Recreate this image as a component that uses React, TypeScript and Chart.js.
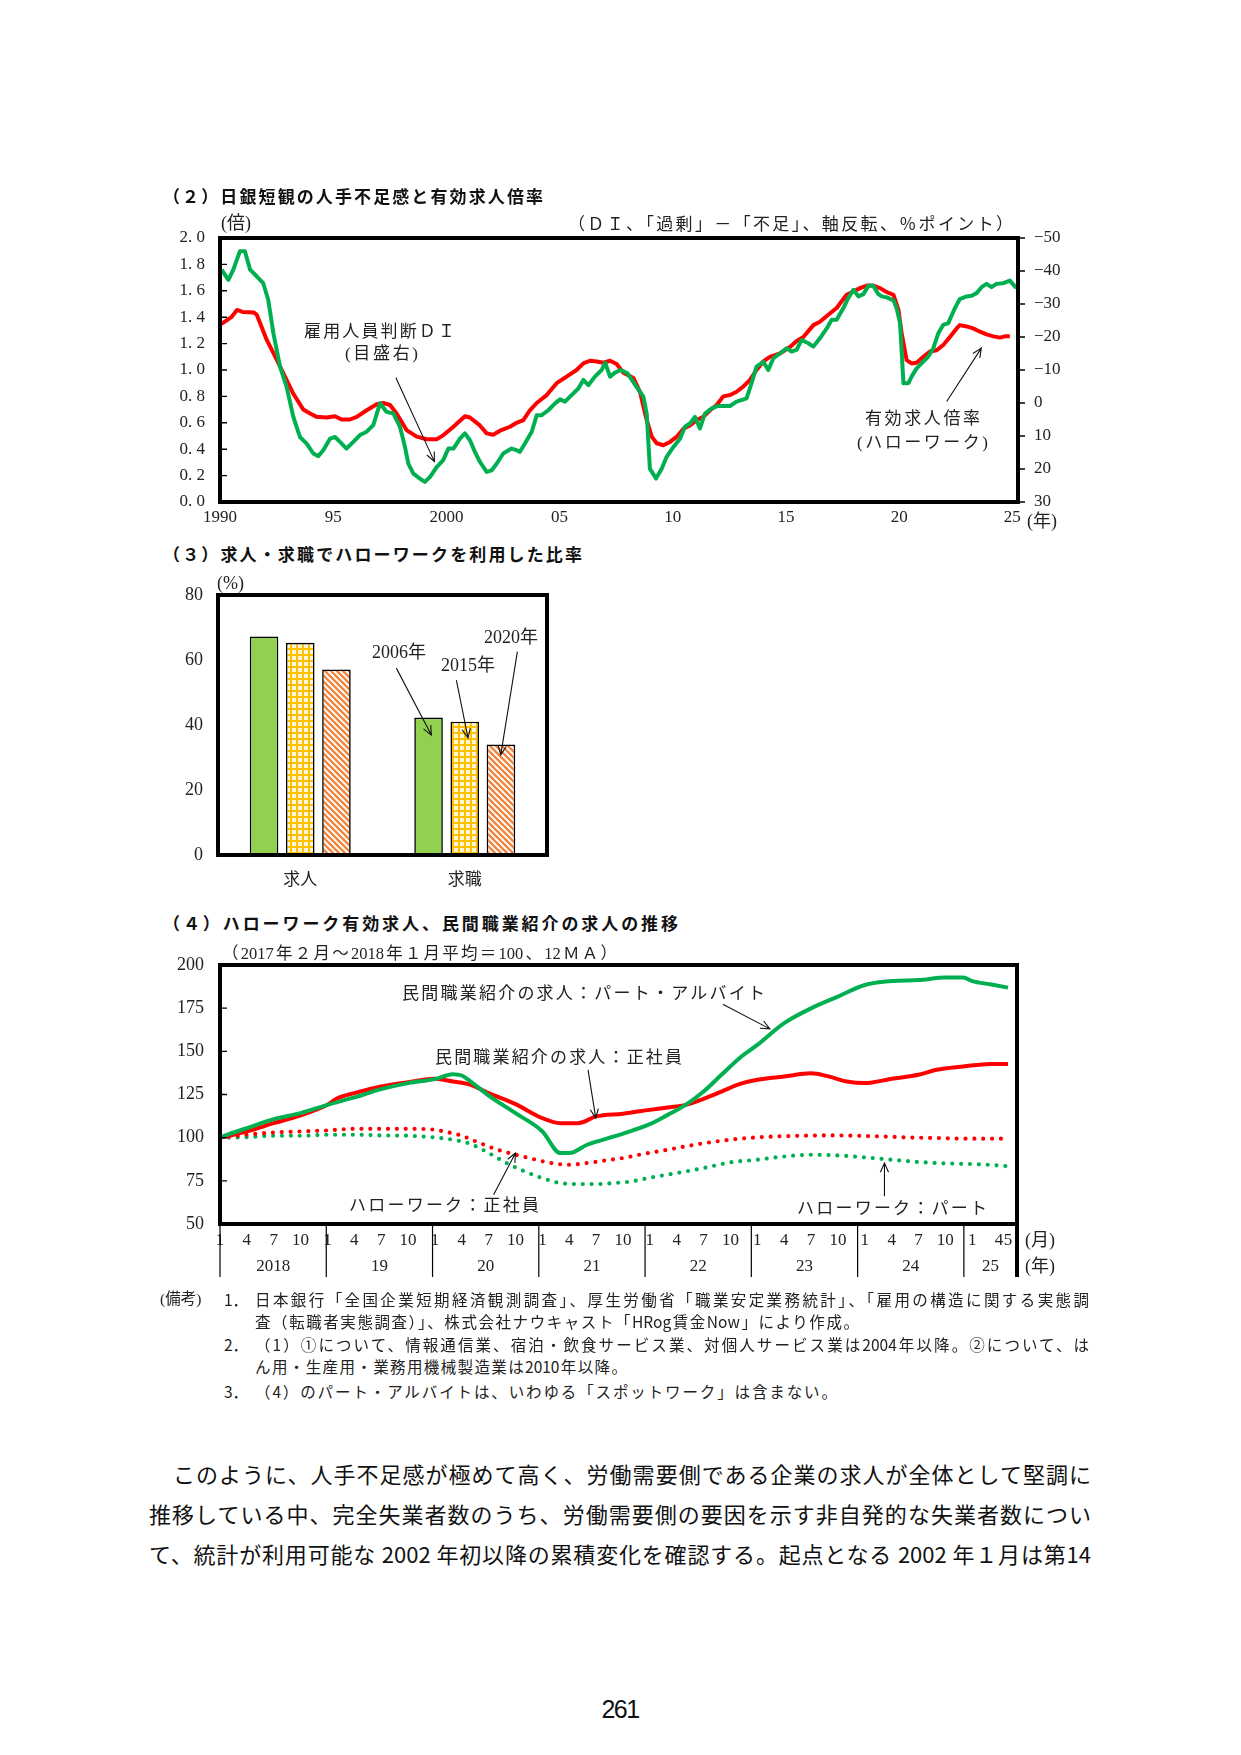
import React, { useEffect, useRef } from "react";
import { Chart, registerables } from "chart.js";

Chart.register(...registerables);

const SERIF = '"Liberation Serif", "Noto Sans CJK JP", serif';
const JP = '"Noto Sans CJK JP", "Liberation Serif", sans-serif';
const RED = "#FF0000";
const GREEN = "#00B050";
const INK = "#222";

// ---------- (2) 有効求人倍率（左軸）と雇用人員判断DI（右軸・反転） ----------
const ratioYears = [
  1990.07, 1990.5, 1990.75, 1991.0, 1991.5, 1991.62, 1992.06, 1992.5, 1992.8, 1993.24,
  1993.68, 1993.98, 1994.27, 1994.71, 1995.08, 1995.37, 1995.74, 1996.04, 1996.48, 1996.92,
  1997.21, 1997.51, 1997.8, 1998.24, 1998.69, 1999.13, 1999.57, 1999.86, 2000.31, 2000.82,
  2001.04, 2001.48, 2001.78, 2002.07, 2002.37, 2002.81, 2003.1, 2003.4, 2003.69, 2003.99,
  2004.43, 2004.87, 2005.31, 2005.75, 2006.05, 2006.34, 2006.64, 2006.93, 2007.23, 2007.52,
  2007.82, 2008.26, 2008.55, 2008.85, 2009.07, 2009.29, 2009.58, 2009.88, 2010.18, 2010.47,
  2010.76, 2011.06, 2011.35, 2011.65, 2011.94, 2012.23, 2012.53, 2012.82, 2013.12, 2013.41,
  2013.7, 2014.0, 2014.29, 2014.73, 2015.18, 2015.47, 2015.77, 2016.21, 2016.5, 2016.95,
  2017.24, 2017.68, 2017.98, 2018.27, 2018.57, 2018.86, 2019.16, 2019.45, 2019.75, 2019.97,
  2020.11, 2020.33, 2020.55, 2020.77, 2021.07, 2021.36, 2021.66, 2021.95, 2022.24, 2022.54,
  2022.68, 2022.98, 2023.27, 2023.57, 2023.86, 2024.16, 2024.45, 2024.67, 2024.89,
];
const ratioValues = [
  1.35, 1.4, 1.455, 1.44, 1.435, 1.42, 1.23, 1.08, 0.975, 0.82,
  0.7, 0.67, 0.645, 0.64, 0.65, 0.625, 0.625, 0.645, 0.695, 0.74,
  0.75, 0.735, 0.67, 0.545, 0.495, 0.475, 0.475, 0.505, 0.57, 0.65,
  0.64, 0.58, 0.52, 0.51, 0.54, 0.57, 0.6, 0.62, 0.695, 0.75,
  0.81, 0.9, 0.95, 1.0, 1.05, 1.07, 1.065, 1.055, 1.07, 1.045,
  0.98, 0.94, 0.835, 0.62, 0.495, 0.445, 0.43, 0.455, 0.495, 0.555,
  0.58, 0.62, 0.645, 0.695, 0.735, 0.8, 0.81, 0.835, 0.875, 0.925,
  1.0, 1.065, 1.1, 1.125, 1.175, 1.22, 1.25, 1.34, 1.365, 1.43,
  1.47, 1.57, 1.595, 1.62, 1.64, 1.64, 1.62, 1.59, 1.57, 1.455,
  1.28, 1.075, 1.05, 1.055, 1.1, 1.14, 1.15, 1.19, 1.25, 1.315,
  1.34, 1.33, 1.315, 1.29, 1.27, 1.255, 1.245, 1.255, 1.255,
];
const diYears = [
  1990.07, 1990.37, 1990.59, 1990.88, 1991.1, 1991.33, 1991.62, 1991.91, 1992.13, 1992.36,
  1992.65, 1992.94, 1993.24, 1993.53, 1993.83, 1994.12, 1994.34, 1994.56, 1994.86, 1995.08,
  1995.3, 1995.59, 1995.89, 1996.18, 1996.48, 1996.77, 1997.07, 1997.36, 1997.66, 1997.95,
  1998.17, 1998.32, 1998.54, 1998.83, 1999.05, 1999.28, 1999.57, 1999.86, 2000.09, 2000.31,
  2000.6, 2000.82, 2001.04, 2001.26, 2001.48, 2001.78, 2002.0, 2002.22, 2002.51, 2002.88,
  2003.1, 2003.25, 2003.47, 2003.77, 2003.99, 2004.21, 2004.5, 2004.8, 2005.02, 2005.24,
  2005.53, 2005.83, 2006.05, 2006.27, 2006.56, 2006.86, 2007.01, 2007.23, 2007.45, 2007.7,
  2008.0, 2008.4, 2008.7, 2008.85, 2008.99, 2009.26, 2009.51, 2009.73, 2010.03, 2010.32,
  2010.54, 2010.76, 2010.98, 2011.2, 2011.42, 2011.72, 2012.01, 2012.53, 2012.82, 2013.26,
  2013.48, 2013.7, 2014.0, 2014.22, 2014.44, 2014.73, 2015.03, 2015.25, 2015.47, 2015.69,
  2015.99, 2016.21, 2016.5, 2016.8, 2017.02, 2017.24, 2017.53, 2017.75, 2017.98, 2018.2,
  2018.42, 2018.64, 2018.86, 2019.08, 2019.23, 2019.45, 2019.75, 2019.89, 2020.04, 2020.19,
  2020.41, 2020.55, 2020.77, 2020.99, 2021.28, 2021.51, 2021.73, 2021.95, 2022.17, 2022.46,
  2022.68, 2022.98, 2023.2, 2023.42, 2023.64, 2023.86, 2024.08, 2024.3, 2024.6, 2024.89,
  2025.18,
];
const diValues = [
  -40.4, -37.3, -40.4, -46, -46, -40.4, -38.4, -36.3, -31.3, -21.1,
  -11, -5, 4.2, 10.3, 12.3, 15.3, 16.1, 14.3, 10.8, 10.3,
  11.8, 13.8, 11.8, 9.7, 8.7, 6.7, 0.1, 2.7, 3.2, 7.2,
  13.3, 18.4, 21.4, 22.9, 23.9, 22.4, 19.4, 17.3, 13.8, 13.8,
  10.8, 9.2, 11.3, 14.8, 17.8, 20.9, 20.4, 18.4, 15.3, 13.8,
  14.3, 14.8, 12.3, 8.7, 3.7, 3.7, 2.2, 0.1, -1.1, -0.4,
  -2.4, -4.4, -7, -5.4, -8, -10, -12.2, -8, -9.2, -10,
  -9, -4.9, -1.9, 3.2, 19.9, 22.9, 19.9, 16.3, 13.3, 10.8,
  7.2, 6.2, 4.2, 7.7, 3.2, 1.6, 0.9, 0.9, -0.4, -1.4,
  -6, -11, -12.5, -10, -13.5, -15, -16.6, -15.6, -16.1, -19.1,
  -18.1, -17.1, -19.6, -22.6, -25.2, -25.2, -28.7, -31.8, -34.3, -32.3,
  -33, -35.5, -35.5, -33, -32.3, -32, -31.1, -28.7, -24.2, -6,
  -6, -8, -10.5, -12, -14, -16.6, -21.1, -23.7, -24.2, -28.7,
  -31.5, -32.3, -32.5, -33.3, -35.1, -36.1, -35.1, -36.1, -36.3, -37.1,
  -34.8,
];
const yearTicks = [1990, 1995, 2000, 2005, 2010, 2015, 2020, 2025];
const yearTickLabels = ["1990", "95", "2000", "05", "10", "15", "20", "25"];

// ---------- (3) 求人・求職でハローワークを利用した比率 ----------
const useCategories = ["求人", "求職"];
const surveyYears = ["2006年", "2015年", "2020年"];
const share2006 = [67.2, 42.3];
const share2015 = [65.3, 41.0];
const share2020 = [57.1, 34.0];

// ---------- (4) ハローワーク有効求人、民間職業紹介の求人 ----------
const periodYears = [2018, 2019, 2020, 2021, 2022, 2023, 2024, 2025];
const yearRowLabels = ["2018", "19", "20", "21", "22", "23", "24", "25"];
const monthsInAxis = 90; // 2018年1月〜2025年6月
const monthLabels = periodYears
  .flatMap((y) => Array.from({ length: 12 }, (_, i) => `${y}-${i + 1}`))
  .slice(0, monthsInAxis);
const shownMonths = [1, 4, 7, 10];
const shownMonthsLastYear = [1, 4, 5];

const privPartMonths = [0, 1, 3, 6, 9, 12, 15, 18, 21, 24, 26, 27, 28, 30, 33, 36, 38, 39, 41, 44, 48, 50, 52, 54, 56, 58, 60, 63, 66, 69, 72, 75, 78, 81, 83, 84, 86, 88];
const privPartValues = [100, 102.1, 105.5, 110.7, 114.2, 119, 123.3, 128.1, 131.6, 133.9, 136.8, 136, 132.5, 124.4, 114.2, 103.6, 91.1, 91.1, 95.9, 100.7, 107.8, 113.2, 119, 126.7, 136.4, 146, 153.7, 166.3, 174.9, 181.7, 188.4, 190.7, 191.3, 192.7, 192.7, 190.7, 188.8, 186.9];
const privRegMonths = [0, 3, 6, 9, 12, 13, 15, 18, 21, 24, 26, 28, 30, 33, 36, 38, 40, 42, 45, 48, 50, 52, 54, 56, 58, 60, 63, 66, 68, 70, 72, 75, 78, 80, 83, 86, 88];
const privRegValues = [100, 103.6, 108.4, 112.9, 119, 122.5, 125.8, 129.6, 132.1, 134.1, 132.5, 130.6, 125.8, 119.4, 111.3, 108.4, 108.4, 112.3, 113.9, 116.1, 117.5, 119, 122.5, 126.7, 131, 133.5, 135.4, 137.3, 135.4, 132.5, 131.6, 134.1, 136.4, 139.3, 141.2, 142.7, 142.7];
const hwRegMonths = [0, 3, 6, 9, 12, 15, 18, 21, 24, 25, 27, 29, 31, 33, 35, 37, 39, 41, 43, 45, 47, 50, 53, 56, 59, 62, 65, 68, 71, 74, 77, 80, 83, 86, 88];
const hwRegValues = [100, 101.7, 103, 103.6, 104.2, 105.1, 105.1, 105.1, 104.6, 103.6, 101.1, 96.9, 93, 90.1, 87.6, 85.3, 84.3, 85.3, 86.8, 88.2, 90.3, 93, 95.9, 98.2, 99.8, 100.7, 101.1, 101.3, 101.1, 100.7, 100.1, 99.8, 99.4, 99.4, 99.4];
const hwPartMonths = [0, 3, 6, 9, 12, 15, 18, 21, 24, 26, 28, 30, 32, 34, 36, 38, 40, 42, 44, 46, 48, 51, 54, 57, 60, 63, 66, 69, 72, 75, 78, 81, 84, 87, 88];
const hwPartValues = [100, 100.3, 101.1, 101.1, 101.7, 101.7, 101.3, 101.1, 100.1, 98.8, 96.3, 91.1, 85.3, 80.5, 76.6, 73.7, 73.1, 73.1, 73.7, 74.7, 76.8, 79.5, 82.4, 85.7, 87.2, 89.1, 90.1, 89.7, 88.6, 87.2, 85.9, 85.1, 84.7, 83.9, 83.4];

// annotation arrows, in data units of each chart
const arrows2 = [
  { axis: "yL", from: [1997.77, 0.941], to: [1999.47, 0.306] },
  { axis: "yL", from: [2022.1, 0.761], to: [2023.63, 1.166] },
];
const arrows3 = [
  { from: [0.584, 57.5], to: [0.797, 36.9] },
  { from: [0.949, 53.8], to: [1.02, 36.0] },
  { from: [1.32, 62.6], to: [1.219, 30.8] },
];
const arrows4 = [
  { from: [56.15, 177.3], to: [61.4, 163] },
  { from: [41.1, 139.3], to: [41.96, 111.3] },
  { from: [30.55, 67.0], to: [33.0, 91.1] },
  { from: [74.2, 66.0], to: [74.2, 85.3] },
];

function drawArrow(ctx: CanvasRenderingContext2D, x1: number, y1: number, x2: number, y2: number) {
  const head = 10;
  const ang = Math.atan2(y2 - y1, x2 - x1);
  ctx.beginPath();
  ctx.moveTo(x1, y1);
  ctx.lineTo(x2, y2);
  ctx.moveTo(x2 - head * Math.cos(ang - 0.42), y2 - head * Math.sin(ang - 0.42));
  ctx.lineTo(x2, y2);
  ctx.lineTo(x2 - head * Math.cos(ang + 0.42), y2 - head * Math.sin(ang + 0.42));
  ctx.stroke();
}

function frameBox(ctx: CanvasRenderingContext2D, a: any) {
  ctx.strokeStyle = "#000";
  ctx.lineWidth = 4;
  ctx.strokeRect(a.left, a.top, a.right - a.left, a.bottom - a.top);
}

// fixed axis sizes so the plot area sits where the layout wants it
const fixWidth = (w: number) => (s: any) => {
  s.width = w;
  s.paddingTop = 0;
  s.paddingBottom = 0;
  s.paddingLeft = 0;
  s.paddingRight = 0;
};
const fixHeight = (h: number) => (s: any) => {
  s.height = h;
  s.paddingTop = 0;
  s.paddingBottom = 0;
  s.paddingLeft = 0;
  s.paddingRight = 0;
};

function gridPattern(): CanvasPattern {
  const c = document.createElement("canvas");
  c.width = 6;
  c.height = 6;
  const g = c.getContext("2d")!;
  g.fillStyle = "#FFF6DA";
  g.fillRect(0, 0, 6, 6);
  g.fillStyle = "#FFC000";
  g.fillRect(0, 0, 6, 2);
  g.fillRect(0, 0, 2, 6);
  return g.createPattern(c, "repeat")!;
}

function stripePattern(): CanvasPattern {
  const s = 6;
  const c = document.createElement("canvas");
  c.width = s;
  c.height = s;
  const g = c.getContext("2d")!;
  g.fillStyle = "#FFFFFF";
  g.fillRect(0, 0, s, s);
  g.strokeStyle = "#F2843C";
  g.lineWidth = 2.3;
  g.beginPath();
  for (let k = -1; k <= 1; k++) {
    g.moveTo(k * s - 1, -1);
    g.lineTo(k * s + s + 1, s + 1);
  }
  g.stroke();
  return g.createPattern(c, "repeat")!;
}

const tickFont = { family: SERIF, size: 17 };

function Txt(p: {
  x: number; y: number; text: string; size?: number; font?: string; w?: number;
  justify?: boolean; ls?: number; color?: string; weight?: number | string; align?: any;
}) {
  const size = p.size ?? 17;
  const lh = Math.round(size * 1.3);
  return (
    <div
      style={{
        position: "absolute",
        left: p.x,
        top: p.y - lh / 2,
        width: p.w,
        fontSize: size,
        lineHeight: `${lh}px`,
        fontFamily: p.font ?? JP,
        fontWeight: p.weight ?? 400,
        color: p.color ?? INK,
        letterSpacing: p.ls,
        textAlign: p.justify ? "justify" : p.align ?? "left",
        textAlignLast: p.justify ? "justify" : p.align ?? "left",
        whiteSpace: p.justify ? "normal" : "nowrap",
      } as any}
    >
      {p.text}
    </div>
  );
}

export default function App() {
  const c2 = useRef<HTMLCanvasElement>(null);
  const c3 = useRef<HTMLCanvasElement>(null);
  const c4 = useRef<HTMLCanvasElement>(null);

  useEffect(() => {
    const charts: Chart[] = [];

    // ---- (2) ----
    const deco2 = {
      id: "deco2",
      afterDatasetsDraw(chart: any) {
        const { ctx, chartArea: a, scales } = chart;
        ctx.save();
        ctx.strokeStyle = "#000";
        ctx.lineWidth = 1.4;
        ctx.beginPath();
        for (const t of scales.yL.ticks) {
          const y = scales.yL.getPixelForValue(t.value);
          ctx.moveTo(a.left, y);
          ctx.lineTo(a.left + 7, y);
        }
        for (const t of scales.yR.ticks) {
          const y = scales.yR.getPixelForValue(t.value);
          ctx.moveTo(a.right, y);
          ctx.lineTo(a.right + 7, y);
        }
        ctx.stroke();
        frameBox(ctx, a);
        ctx.strokeStyle = "#111";
        ctx.lineWidth = 1.1;
        for (const ar of arrows2) {
          const ys = scales[ar.axis];
          drawArrow(
            ctx,
            scales.x.getPixelForValue(ar.from[0]), ys.getPixelForValue(ar.from[1]),
            scales.x.getPixelForValue(ar.to[0]), ys.getPixelForValue(ar.to[1])
          );
        }
        ctx.restore();
      },
    };
    charts.push(
      new Chart(c2.current!, {
        type: "line",
        data: {
          datasets: [
            {
              label: "雇用人員判断DI",
              data: diYears.map((x, i) => ({ x, y: diValues[i] })),
              yAxisID: "yR",
              borderColor: GREEN,
              borderWidth: 4,
              pointRadius: 0,
              tension: 0,
              borderJoinStyle: "round",
            },
            {
              label: "有効求人倍率",
              data: ratioYears.map((x, i) => ({ x, y: ratioValues[i] })),
              yAxisID: "yL",
              borderColor: RED,
              borderWidth: 4,
              pointRadius: 0,
              tension: 0,
              borderJoinStyle: "round",
            },
          ],
        },
        options: {
          responsive: false,
          animation: false,
          layout: { autoPadding: false, padding: { top: 33, left: 0, right: 0, bottom: 0 } },
          plugins: { legend: { display: false }, tooltip: { enabled: false } },
          scales: {
            x: {
              type: "linear",
              min: 1990,
              max: 2025.25,
              grid: { display: false, drawTicks: false },
              border: { display: false },
              afterBuildTicks: (s: any) => { s.ticks = yearTicks.map((v) => ({ value: v })); },
              afterFit: fixHeight(33),
              ticks: {
                autoSkip: false,
                maxRotation: 0,
                padding: 5,
                color: INK,
                font: tickFont,
                callback: (v: any) => yearTickLabels[yearTicks.indexOf(Number(v))] ?? "",
              },
            },
            yL: {
              type: "linear",
              position: "left",
              min: 0,
              max: 2,
              grid: { display: false, drawTicks: false },
              border: { display: false },
              afterFit: fixWidth(80),
              ticks: {
                stepSize: 0.2,
                padding: 15,
                color: INK,
                font: tickFont,
                callback: (v: any) => Number(v).toFixed(1).replace(".", ". "),
              },
            },
            yR: {
              type: "linear",
              position: "right",
              min: -50,
              max: 30,
              reverse: true,
              grid: { display: false, drawTicks: false },
              border: { display: false },
              afterFit: fixWidth(62),
              ticks: {
                stepSize: 10,
                padding: 16,
                color: INK,
                font: tickFont,
                callback: (v: any) => (Number(v) < 0 ? "\u2212" + Math.abs(Number(v)) : String(v)),
              },
            },
          },
        } as any,
        plugins: [deco2],
      })
    );

    // ---- (3) ----
    const deco3 = {
      id: "deco3",
      afterDatasetsDraw(chart: any) {
        const { ctx, chartArea: a, scales } = chart;
        ctx.save();
        frameBox(ctx, a);
        ctx.strokeStyle = "#111";
        ctx.lineWidth = 1.1;
        for (const ar of arrows3) {
          drawArrow(
            ctx,
            scales.x.getPixelForValue(ar.from[0]), scales.y.getPixelForValue(ar.from[1]),
            scales.x.getPixelForValue(ar.to[0]), scales.y.getPixelForValue(ar.to[1])
          );
        }
        ctx.restore();
      },
    };
    charts.push(
      new Chart(c3.current!, {
        type: "bar",
        data: {
          labels: useCategories,
          datasets: [
            { label: surveyYears[0], data: share2006, backgroundColor: "#92D050" },
            { label: surveyYears[1], data: share2015, backgroundColor: gridPattern() },
            { label: surveyYears[2], data: share2020, backgroundColor: stripePattern() },
          ].map((d) => ({
            ...d,
            borderColor: "#000",
            borderWidth: 1.6,
            borderSkipped: false,
            categoryPercentage: 0.66,
            barPercentage: 0.79,
          })),
        },
        options: {
          responsive: false,
          animation: false,
          layout: { autoPadding: false, padding: { top: 25, left: 0, right: 13, bottom: 0 } },
          plugins: { legend: { display: false }, tooltip: { enabled: false } },
          scales: {
            x: {
              grid: { display: false, drawTicks: false },
              border: { display: false },
              afterFit: fixHeight(45),
              ticks: { padding: 13, color: INK, font: { family: JP, size: 17 } },
            },
            y: {
              min: 0,
              max: 80,
              grid: { display: false, drawTicks: false },
              border: { display: false },
              afterFit: fixWidth(78),
              ticks: { stepSize: 20, padding: 15, color: INK, font: { family: SERIF, size: 18 } },
            },
          },
        } as any,
        plugins: [deco3],
      })
    );

    // ---- (4) ----
    const deco4 = {
      id: "deco4",
      afterDatasetsDraw(chart: any) {
        const { ctx, chartArea: a, scales } = chart;
        ctx.save();
        ctx.strokeStyle = "#000";
        ctx.lineWidth = 1.4;
        ctx.beginPath();
        for (const t of scales.y.ticks) {
          const y = scales.y.getPixelForValue(t.value);
          ctx.moveTo(a.left, y);
          ctx.lineTo(a.left + 7, y);
        }
        ctx.stroke();
        frameBox(ctx, a);
        // year separators and year row
        const slot = (a.right - a.left) / monthsInAxis;
        ctx.lineWidth = 1.2;
        ctx.beginPath();
        for (let k = 0; k < periodYears.length; k++) {
          const x = a.left + 12 * k * slot;
          ctx.moveTo(x, a.bottom);
          ctx.lineTo(x, a.bottom + 53);
        }
        ctx.stroke();
        ctx.lineWidth = 4;
        ctx.beginPath();
        ctx.moveTo(a.right, a.bottom);
        ctx.lineTo(a.right, a.bottom + 53);
        ctx.stroke();
        ctx.fillStyle = INK;
        ctx.font = `17px ${SERIF}`;
        ctx.textAlign = "center";
        ctx.textBaseline = "middle";
        periodYears.forEach((_, k) => {
          const n = Math.min(12, monthsInAxis - 12 * k);
          ctx.fillText(yearRowLabels[k], a.left + (12 * k + n / 2) * slot, a.bottom + 43);
        });
        ctx.strokeStyle = "#111";
        ctx.lineWidth = 1.1;
        for (const ar of arrows4) {
          drawArrow(
            ctx,
            scales.x.getPixelForValue(ar.from[0]), scales.y.getPixelForValue(ar.from[1]),
            scales.x.getPixelForValue(ar.to[0]), scales.y.getPixelForValue(ar.to[1])
          );
        }
        ctx.restore();
      },
    };
    const series = (months: number[], values: number[]) =>
      months.map((m, i) => ({ x: monthLabels[m], y: values[i] }));
    const solid = { borderWidth: 4, pointRadius: 0, tension: 0.4, cubicInterpolationMode: "monotone", borderJoinStyle: "round" };
    const dotted = { ...solid, borderWidth: 4.2, borderDash: [0, 8.86], borderCapStyle: "round" };
    charts.push(
      new Chart(c4.current!, {
        type: "line",
        data: {
          labels: monthLabels,
          datasets: [
            { label: "民間職業紹介の求人：パート・アルバイト", data: series(privPartMonths, privPartValues), borderColor: GREEN, ...solid },
            { label: "民間職業紹介の求人：正社員", data: series(privRegMonths, privRegValues), borderColor: RED, ...solid },
            { label: "ハローワーク：正社員", data: series(hwRegMonths, hwRegValues), borderColor: RED, ...dotted },
            { label: "ハローワーク：パート", data: series(hwPartMonths, hwPartValues), borderColor: GREEN, ...dotted },
          ],
        },
        options: {
          responsive: false,
          animation: false,
          layout: { autoPadding: false, padding: { top: 15, left: 0, right: 63, bottom: 0 } },
          plugins: { legend: { display: false }, tooltip: { enabled: false } },
          scales: {
            x: {
              type: "category",
              grid: { display: false, drawTicks: false },
              border: { display: false },
              afterFit: fixHeight(66),
              ticks: {
                autoSkip: false,
                maxRotation: 0,
                minRotation: 0,
                padding: 6,
                color: INK,
                font: tickFont,
                callback: (_v: any, idx: number) => {
                  const month = (idx % 12) + 1;
                  const year = periodYears[Math.floor(idx / 12)];
                  const list = year === periodYears[periodYears.length - 1] ? shownMonthsLastYear : shownMonths;
                  return list.includes(month) ? String(month) : "";
                },
              },
            },
            y: {
              min: 50,
              max: 200,
              grid: { display: false, drawTicks: false },
              border: { display: false },
              afterFit: fixWidth(80),
              ticks: { stepSize: 25, padding: 16, color: INK, font: { family: SERIF, size: 18 } },
            },
          },
        } as any,
        plugins: [deco4],
      })
    );

    return () => charts.forEach((c) => c.destroy());
  }, []);

  const canvasStyle = (left: number, top: number): React.CSSProperties => ({ position: "absolute", left, top });

  return (
    <div style={{ position: "absolute", left: 0, top: 0, width: 1241, height: 1755, background: "#fff", overflow: "hidden" }}>
      <canvas ref={c2} width={940} height={330} style={canvasStyle(140, 205)} />
      <canvas ref={c3} width={420} height={330} style={canvasStyle(140, 570)} />
      <canvas ref={c4} width={940} height={340} style={canvasStyle(140, 950)} />

      {/* (2) */}
      <Txt x={163} y={196} w={380} size={17} weight={700} justify text="（２）日銀短観の人手不足感と有効求人倍率" color="#111" />
      <Txt x={221} y={223} size={18} font={SERIF} text="(倍)" />
      <Txt x={568} y={223} w={445} size={17} justify text="（ＤＩ、「過剰」－「不足」、軸反転、％ポイント）" />
      <Txt x={304} y={330} w={151} size={17} justify text="雇用人員判断ＤＩ" />
      <Txt x={345} y={354} w={73} size={17} justify font={SERIF} text="(目盛右)" />
      <Txt x={865} y={417} w={115} size={17} justify text="有効求人倍率" />
      <Txt x={857} y={443} w={131} size={17} justify font={SERIF} text="(ハローワーク)" />
      <Txt x={1027} y={521} size={18} font={SERIF} text="(年)" />

      {/* (3) */}
      <Txt x={163} y={554} w={419} size={17} weight={700} justify text="（３）求人・求職でハローワークを利用した比率" color="#111" />
      <Txt x={217} y={583} size={18} font={SERIF} text="(%)" />
      <Txt x={372} y={652} size={18} font={SERIF} text={surveyYears[0]} />
      <Txt x={441} y={665} size={18} font={SERIF} text={surveyYears[1]} />
      <Txt x={484} y={637} size={18} font={SERIF} text={surveyYears[2]} />

      {/* (4) */}
      <Txt x={163} y={923} w={515} size={17} weight={700} justify text="（４）ハローワーク有効求人、民間職業紹介の求人の推移" color="#111" />
      <Txt x={222} y={953} w={395} size={16.5} justify font={SERIF} text="（2017年２月～2018年１月平均＝100、12ＭＡ）" />
      <Txt x={402} y={992} w={363} size={17} justify text="民間職業紹介の求人：パート・アルバイト" />
      <Txt x={435} y={1056} w={247} size={17} justify text="民間職業紹介の求人：正社員" />
      <Txt x={349} y={1204} w={190} size={17} justify text="ハローワーク：正社員" />
      <Txt x={797} y={1207} w={190} size={17} justify text="ハローワーク：パート" />
      <Txt x={1025} y={1240} size={18} font={SERIF} text="(月)" />
      <Txt x={1025} y={1266} size={18} font={SERIF} text="(年)" />

      {/* 備考 */}
      <Txt x={160} y={1299} size={15.5} font={SERIF} text="(備考)" />
      <Txt x={224} y={1299} size={15.5} text="1．" />
      <Txt x={255} y={1299} w={834} size={15.5} justify text="日本銀行「全国企業短期経済観測調査」、厚生労働省「職業安定業務統計」、「雇用の構造に関する実態調" />
      <Txt x={255} y={1321} w={604} size={15.5} justify text="査（転職者実態調査）」、株式会社ナウキャスト「HRog賃金Now」により作成。" />
      <Txt x={224} y={1344} size={15.5} text="2．" />
      <Txt x={255} y={1344} w={834} size={15.5} justify text="（1）①について、情報通信業、宿泊・飲食サービス業、対個人サービス業は2004年以降。②について、は" />
      <Txt x={255} y={1366} w={372} size={15.5} justify text="ん用・生産用・業務用機械製造業は2010年以降。" />
      <Txt x={224} y={1391} size={15.5} text="3．" />
      <Txt x={255} y={1391} w={582} size={15.5} justify text="（4）のパート・アルバイトは、いわゆる「スポットワーク」は含まない。" />

      {/* 本文 */}
      <Txt x={173} y={1473} w={918} size={22} justify color="#111" text="このように、人手不足感が極めて高く、労働需要側である企業の求人が全体として堅調に" />
      <Txt x={149} y={1513} w={942} size={22} justify color="#111" text="推移している中、完全失業者数のうち、労働需要側の要因を示す非自発的な失業者数につい" />
      <Txt x={149} y={1553} w={942} size={22} justify color="#111" text="て、統計が利用可能な 2002 年初以降の累積変化を確認する。起点となる 2002 年１月は第14" />

      <Txt x={580} y={1709} w={80} size={25} align="center" ls={-1.5} font='"Liberation Sans", sans-serif' color="#111" text="261" />
    </div>
  );
}
